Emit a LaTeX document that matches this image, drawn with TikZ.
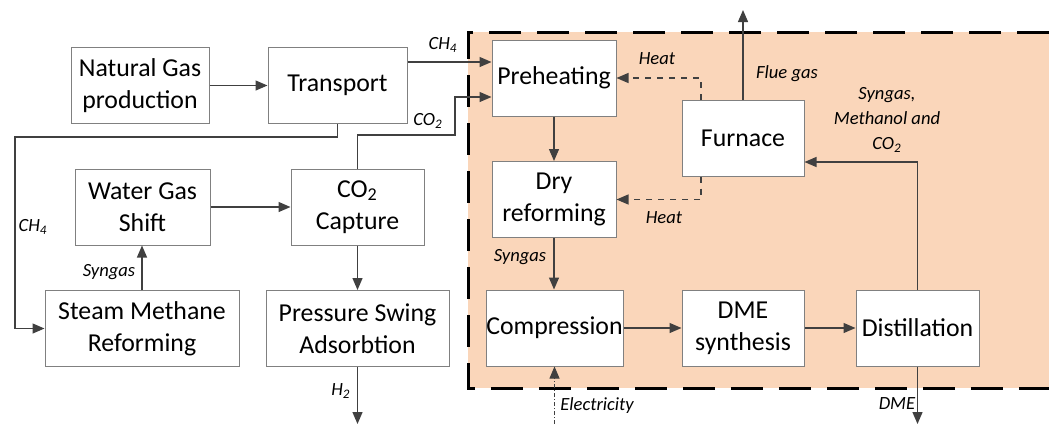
\documentclass[tikz,border=0pt]{standalone}
\usepackage{fontspec}
\setmainfont{Carlito}
\usepackage{tikz}
\usetikzlibrary{arrows.meta}
\definecolor{zonefill}{RGB}{250,214,186}
\definecolor{linegray}{RGB}{64,64,64}
\definecolor{boxgray}{RGB}{128,128,128}

\begin{document}
\begin{tikzpicture}[x=0.5pt,y=-0.5pt,
  box/.style={draw=boxgray,line width=0.5pt,fill=white,align=center,inner sep=0pt,minimum height=38pt,font=\fontsize{12.9}{16}\selectfont},
  flow/.style={draw=linegray,line width=0.65pt,-{Triangle[length=6pt,width=5pt]}},
  heat/.style={flow,dashed},
  lbl/.style={font=\fontsize{9.3}{12.5}\selectfont\itshape,align=center,inner sep=0pt}]
\useasboundingbox (0,0) rectangle (1049,424);
\fill[zonefill] (468,32) rectangle (1049,388);
\draw[line width=1.5pt,dash pattern=on 16pt off 8pt] (1049,32) -- (468,32) -- (468,388) -- (1049,388);
\node[box,minimum width=69pt] (ngprod) at (140,85.5) {Natural Gas\\production};
\node[box,minimum width=69.5pt] (transport) at (337.5,85.5) {Transport};
\node[box,minimum width=67.5pt] (wgs) at (142.5,207) {Water Gas\\Shift};
\node[box,minimum width=66.5pt] (capture) at (357.5,207) {CO\textsubscript{2}\\Capture};
\node[box,minimum width=97pt] (smr) at (142,328.5) {Steam Methane\\Reforming};
\node[box,minimum width=91.5pt] (psa) at (357.5,328.5) {Pressure Swing\\Adsorbtion};
\node[box,minimum width=62pt] (preheat) at (554,78) {Preheating};
\node[box,minimum width=62pt] (dryref) at (554,199.5) {Dry\\reforming};
\node[box,minimum width=61pt] (furnace) at (743,138) {Furnace};
\node[box,minimum width=68.5pt] (compress) at (554.5,328) {Compression};
\node[box,minimum width=61pt] (dmesyn) at (743,328) {DME\\synthesis};
\node[box,minimum width=61.5pt] (distill) at (917.5,328) {Distillation};
\coordinate (h2out) at (357.5,424);
\coordinate (fluegas) at (743,10);
\coordinate (elec) at (554.5,424);
\coordinate (dmeout) at (917.5,424);
\draw[flow] (ngprod) -- (transport);
\draw[flow] (transport.east |- 0,62) -- (preheat.west |- 0,62);
\draw[flow] (capture.north) |- (455,135) |- (preheat.west |- 0,97);
\draw[flow] (transport.south) |- (15,137) |- (smr.west);
\draw[flow] (smr.north) -- (smr.north |- wgs.south);
\draw[flow] (wgs) -- (capture);
\draw[flow] (capture) -- (psa);
\draw[flow] (psa) -- (h2out);
\draw[flow] (preheat) -- (dryref);
\draw[flow] (dryref.south) -- (dryref.south |- compress.north);
\draw[flow] (compress) -- (dmesyn);
\draw[flow] (dmesyn) -- (distill);
\draw[flow] (distill.north) |- (furnace.east |- 0,162);
\draw[flow] (furnace) -- (fluegas);
\draw[heat] (furnace.north -| 701,0) |- (preheat.east);
\draw[heat] (furnace.south -| 701,0) |- (dryref.east);
\draw[flow,line width=0.4pt,dash pattern=on 2pt off 1pt on 0.5pt off 1pt] (elec) -- (compress);
\draw[flow] (distill) -- (dmeout);
\node[lbl] (ch4top) at (443,45) {CH\textsubscript{4}};
\node[lbl] (co2in) at (428,121) {CO\textsubscript{2}};
\node[lbl] (ch4left) at (33,227) {CH\textsubscript{4}};
\node[lbl] (syngas1) at (109,272) {Syngas};
\node[lbl] (h2lbl) at (341,391) {H\textsubscript{2}};
\node[lbl] (heat1) at (657,59) {Heat};
\node[lbl] (heat2) at (664,218) {Heat};
\node[lbl] (fluelbl) at (787,74) {Flue gas};
\node[lbl] (recycle) at (887,120) {Syngas,\\Methanol and\\CO\textsubscript{2}};
\node[lbl] (syngas2) at (520,257) {Syngas};
\node[lbl] (eleclbl) at (597,406) {Electricity};
\node[lbl] (dmelbl) at (897,404) {DME};
\end{tikzpicture}
\end{document}
